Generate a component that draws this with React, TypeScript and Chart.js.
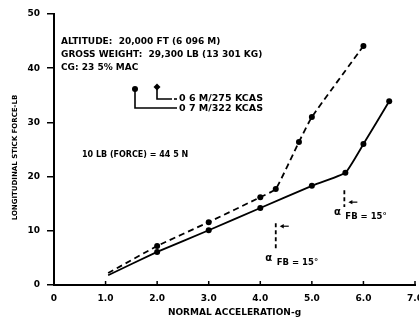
import React, { useEffect, useRef } from "react";
import { Chart, registerables } from "chart.js";

Chart.register(...registerables);

// ---- data ----
const accel07 = [1.05, 2.0, 3.0, 4.0, 5.0, 5.65, 6.0, 6.5];
const force07 = [1.8, 6.1, 10.1, 14.2, 18.3, 20.7, 26.0, 33.9];
const accel06 = [1.05, 2.0, 3.0, 4.0, 4.3, 4.75, 5.0, 6.0];
const force06 = [2.2, 7.2, 11.6, 16.2, 17.7, 26.4, 31.0, 44.1];

const xTicks = [0, 1, 2, 3, 4, 5, 6, 7];
const xTickLabels = ["0", "1.0", "2.0", "3.0", "4.0", "5.0", "6.0", "7.0"];
const yTicks = [0, 10, 20, 30, 40, 50];

const seriesLabels = ["0 6 M/275 KCAS", "0 7 M/322 KCAS"];
const headerLines = [
  "ALTITUDE:  20,000 FT (6 096 M)",
  "GROSS WEIGHT:  29,300 LB (13 301 KG)",
  "CG: 23 5% MAC",
];
const conversionNote = "10 LB (FORCE) = 44 5 N";
const xTitle = "NORMAL ACCELERATION-g";
const yTitle = "LONGITUDINAL STICK FORCE-LB";

// alpha FB = 15 deg markers (data coords)
const alphaX = [4.3, 5.63];
const alphaYTop = [11.4, 17.5];
const alphaYBot = [6.8, 14.4];

const FONT = "'DejaVu Sans', sans-serif";

const annotPlugin = {
  id: "annot",
  afterDraw(chart: any) {
    const { ctx, scales } = chart;
    const xs = scales.x;
    const ys = scales.y;
    const area = chart.chartArea;
    ctx.save();
    ctx.fillStyle = "#000";
    ctx.strokeStyle = "#000";

    // x ticks pointing up from the axis
    ctx.lineWidth = 1.5;
    for (const t of xTicks) {
      const px = xs.getPixelForValue(t);
      ctx.beginPath();
      ctx.moveTo(px, area.bottom);
      ctx.lineTo(px, area.bottom - 4);
      ctx.stroke();
    }

    // header text
    ctx.font = `bold 9px ${FONT}`;
    ctx.textBaseline = "middle";
    ctx.textAlign = "left";
    headerLines.forEach((s, i) => {
      ctx.fillText(s, area.left + 7, area.top + 28 + i * 13);
    });

    ctx.font = `bold 8px ${FONT}`;
    ctx.fillText(conversionNote, area.left + 28, area.top + 141);

    // legend
    const lx1 = area.left + 81; // 0.7 M circle
    const ly1 = area.top + 75;
    const lx2 = area.left + 103; // 0.6 M diamond
    const ly2 = area.top + 73;
    const lineEnd = area.left + 123;
    ctx.lineWidth = 1.6;
    ctx.beginPath();
    ctx.moveTo(lx1, ly1);
    ctx.lineTo(lx1, area.top + 94);
    ctx.lineTo(lineEnd, area.top + 94);
    ctx.stroke();
    ctx.beginPath();
    ctx.arc(lx1, ly1, 3, 0, Math.PI * 2);
    ctx.fill();
    ctx.beginPath();
    ctx.moveTo(lx2, ly2);
    ctx.lineTo(lx2, area.top + 85);
    ctx.lineTo(lineEnd - 5, area.top + 85);
    ctx.stroke();
    ctx.beginPath();
    ctx.moveTo(lx2, ly2 - 3.5);
    ctx.lineTo(lx2 + 3.5, ly2);
    ctx.lineTo(lx2, ly2 + 3.5);
    ctx.lineTo(lx2 - 3.5, ly2);
    ctx.closePath();
    ctx.fill();
    ctx.beginPath();
    ctx.moveTo(lineEnd - 3, area.top + 85);
    ctx.lineTo(lineEnd, area.top + 85);
    ctx.stroke();
    ctx.font = `bold 9.5px ${FONT}`;
    ctx.fillText(seriesLabels[0], lineEnd + 2, area.top + 85);
    ctx.fillText(seriesLabels[1], lineEnd + 2, area.top + 95);

    // alpha annotations
    const arrowDy = [3, 12];
    const textDy = [10, 5];
    alphaX.forEach((ax, i) => {
      const px = xs.getPixelForValue(ax);
      const top = ys.getPixelForValue(alphaYTop[i]);
      const bot = ys.getPixelForValue(alphaYBot[i]);
      ctx.lineWidth = 1.8;
      ctx.setLineDash([4, 3]);
      ctx.beginPath();
      ctx.moveTo(px, top);
      ctx.lineTo(px, bot);
      ctx.stroke();
      ctx.setLineDash([]);
      // arrow
      const ay = top + arrowDy[i];
      ctx.lineWidth = 1.2;
      ctx.beginPath();
      ctx.moveTo(px + 13, ay);
      ctx.lineTo(px + 6, ay);
      ctx.stroke();
      ctx.beginPath();
      ctx.moveTo(px + 4, ay);
      ctx.lineTo(px + 8, ay - 2.2);
      ctx.lineTo(px + 8, ay + 2.2);
      ctx.closePath();
      ctx.fill();
      // label
      const ty = bot + textDy[i];
      ctx.font = `bold 10px ${FONT}`;
      ctx.textAlign = "center";
      ctx.fillText("α", px - 7, ty);
      ctx.font = `bold 8.5px ${FONT}`;
      ctx.textAlign = "left";
      ctx.fillText("FB = 15°", px + 1, ty + 5);
    });

    // y title
    ctx.save();
    ctx.translate(15, (area.top + area.bottom) / 2 + 8);
    ctx.rotate(-Math.PI / 2);
    ctx.font = `bold 7px ${FONT}`;
    ctx.textAlign = "center";
    ctx.textBaseline = "middle";
    ctx.fillText(yTitle, 0, 0);
    ctx.restore();

    ctx.restore();
  },
};

export default function App() {
  const ref = useRef<HTMLCanvasElement>(null);

  useEffect(() => {
    if (!ref.current) return;
    const mk = (xsArr: number[], ysArr: number[]) =>
      xsArr.map((v, i) => ({ x: v, y: ysArr[i] }));
    const chart = new Chart(ref.current, {
      type: "scatter",
      data: {
        datasets: [
          {
            label: seriesLabels[0],
            data: mk(accel06, force06),
            showLine: true,
            borderColor: "#000",
            backgroundColor: "#000",
            borderWidth: 1.8,
            borderDash: [6, 4],
            tension: 0.12,
            pointRadius: accel06.map((_, i) => (i === 0 ? 0 : 3)),
            pointBackgroundColor: "#000",
            pointBorderWidth: 0,
          },
          {
            label: seriesLabels[1],
            data: mk(accel07, force07),
            showLine: true,
            borderColor: "#000",
            backgroundColor: "#000",
            borderWidth: 1.8,
            tension: 0.12,
            pointRadius: accel07.map((_, i) => (i === 0 ? 0 : 3)),
            pointBackgroundColor: "#000",
            pointBorderWidth: 0,
          },
        ],
      },
      options: {
        responsive: false,
        animation: false,
        devicePixelRatio: 1,
        layout: { padding: { top: 14, right: 0, left: 0, bottom: 0 } },
        plugins: {
          legend: { display: false },
          tooltip: { enabled: false },
        },
        scales: {
          x: {
            type: "linear",
            min: 0,
            max: 7,
            afterBuildTicks: (s: any) => {
              s.ticks = xTicks.map((v) => ({ value: v }));
            },
            afterFit: (s: any) => {
              s.height = 35;
              s.paddingRight = 0;
              s.paddingLeft = 0;
            },
            grid: { display: false, drawTicks: false },
            border: { display: true, color: "#000", width: 2 },
            ticks: {
              color: "#000",
              padding: 8,
              maxRotation: 0,
              autoSkip: false,
              font: { family: FONT, size: 9, weight: "bold" },
              callback: (v: any) => {
                const i = xTicks.indexOf(Number(v));
                return i >= 0 ? xTickLabels[i] : "";
              },
            },
            title: {
              display: true,
              text: xTitle,
              color: "#000",
              padding: { top: 0, bottom: 2 },
              font: { family: FONT, size: 9, weight: "bold" },
            },
          },
          y: {
            type: "linear",
            min: 0,
            max: 50,
            afterBuildTicks: (s: any) => {
              s.ticks = yTicks.map((v) => ({ value: v }));
            },
            afterFit: (s: any) => {
              s.width = 54;
            },
            grid: {
              drawOnChartArea: false,
              drawTicks: true,
              tickLength: 7,
              color: "#000",
              lineWidth: 1.5,
            },
            border: { display: true, color: "#000", width: 2 },
            ticks: {
              color: "#000",
              padding: 7,
              font: { family: FONT, size: 9, weight: "bold" },
            },
          },
        },
      },
      plugins: [annotPlugin],
    } as any);
    return () => chart.destroy();
  }, []);

  return (
    <div style={{ position: "fixed", left: 0, top: 0, width: 419, height: 320, background: "#fff" }}>
      <canvas ref={ref} width={419} height={320} style={{ display: "block" }} />
    </div>
  );
}
